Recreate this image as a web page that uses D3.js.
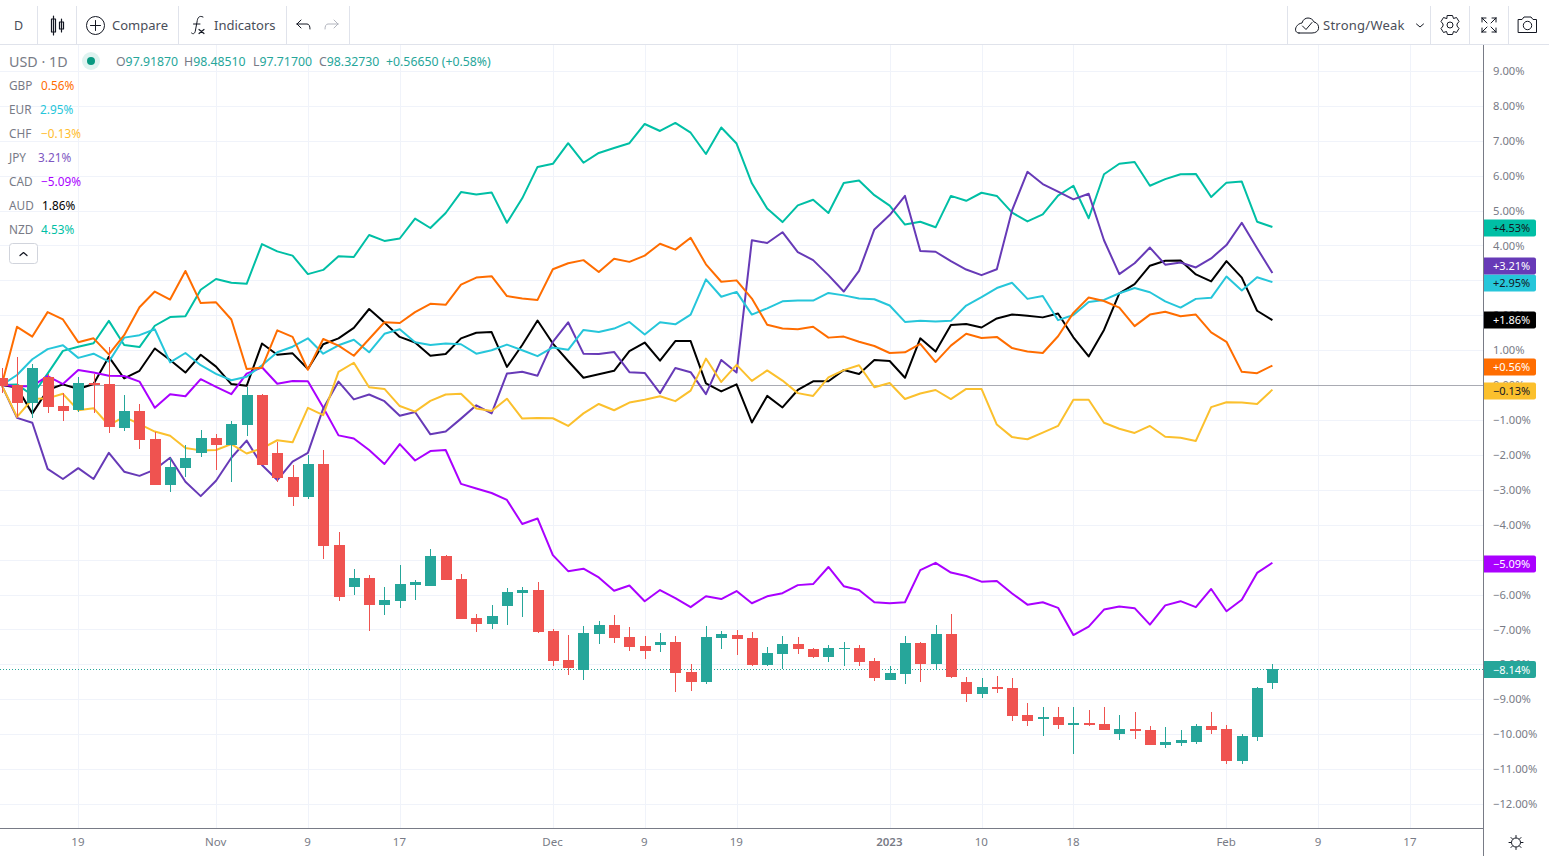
<!DOCTYPE html>
<html><head><meta charset="utf-8">
<script src="https://d3js.org/d3.v7.min.js"></script>
<style>
html,body{margin:0;padding:0;background:#fff;overflow:hidden}
svg{display:block;font-family:"Noto Sans",sans-serif}
</style></head><body><svg id="c" width="1549" height="856"></svg>
<script>
const gbp=[0,1.67,1.39,2.09,1.88,1.23,1.34,0.88,1.43,2.23,2.68,2.45,3.27,2.35,2.37,1.88,0.46,0.50,1.57,1.38,0.44,1.32,1.13,0.84,1.32,1.80,1.78,2.09,2.33,2.30,2.88,3.08,3.12,2.55,2.48,2.44,3.32,3.49,3.58,3.24,3.62,3.53,3.71,4.05,3.88,4.22,3.46,2.96,3.00,2.48,1.73,1.62,1.60,1.67,1.36,1.39,1.24,1.12,0.92,0.94,1.18,0.66,1.13,1.47,1.35,1.38,1.06,0.96,0.92,1.40,2.07,2.51,2.41,2.22,1.69,2.02,2.10,1.97,2.02,1.51,1.24,0.38,0.34,0.56];
const eur=[0,0.29,0.74,1.03,1.14,0.78,0.90,0.67,1.36,1.43,1.60,0.65,0.92,0.57,0.32,0.14,0.24,0.57,0.94,1.10,1.34,0.90,1.14,1.30,0.94,1.47,1.60,1.23,1.15,1.19,1.17,0.90,1.00,1.16,1.00,0.83,1.08,1.01,1.58,1.52,1.62,1.81,1.45,1.80,1.74,2.02,3.03,2.53,2.67,2.02,2.20,2.40,2.42,2.42,2.64,2.57,2.48,2.46,2.28,1.81,1.84,1.82,1.84,2.28,2.52,2.78,2.93,2.47,2.55,1.86,2.01,2.38,2.44,2.63,2.78,2.66,2.40,2.22,2.47,2.50,3.11,2.71,3.09,2.95];
const chf=[0,-0.91,-0.40,-0.38,-0.25,-0.72,-0.66,-1.15,-0.91,-1.12,-1.33,-1.45,-1.80,-1.87,-1.86,-1.69,-1.96,-1.81,-1.58,-1.64,-0.65,-0.86,0.38,0.64,-0.06,-0.11,-0.60,-0.76,-0.45,-0.27,-0.25,-0.67,-0.74,-0.39,-0.96,-0.94,-0.95,-1.17,-0.81,-0.54,-0.72,-0.50,-0.42,-0.32,-0.46,-0.16,0.76,0.09,0.58,0.12,0.42,0.13,-0.23,-0.31,0.22,0.43,0.57,-0.06,0.06,-0.40,-0.24,-0.14,-0.40,-0.11,-0.11,-1.13,-1.49,-1.55,-1.36,-1.17,-0.42,-0.42,-1.08,-1.25,-1.37,-1.17,-1.48,-1.51,-1.60,-0.63,-0.49,-0.50,-0.54,-0.13];
const jpy=[0,-0.94,-1.08,-2.40,-2.69,-2.38,-2.69,-1.94,-2.48,-2.60,-2.42,-2.08,-2.77,-3.18,-2.74,-2.08,-1.59,-2.29,-2.72,-2.19,-1.94,-0.67,0.10,-0.41,-0.27,-0.46,-0.88,-0.77,-1.41,-1.33,-0.96,-0.58,-0.81,0.33,0.38,0.27,1.24,1.80,0.90,0.89,0.95,0.37,0.35,-0.23,0.49,0.37,-0.26,0.72,0.36,4.15,4.07,4.38,3.81,3.58,3.15,2.68,3.27,4.46,4.87,5.42,3.84,3.82,3.55,3.31,3.15,3.32,5.01,6.11,5.76,5.54,5.32,5.48,4.15,3.18,3.49,3.94,3.45,3.51,3.37,3.63,4.01,4.65,3.92,3.21];
const cad=[0,-0.03,-0.03,0.26,0.03,0.43,0.36,0.27,0.26,0.10,-0.65,-0.26,-0.32,0.17,-0.05,-0.26,0.33,0.51,0.04,0.12,0.11,-0.64,-1.44,-1.53,-1.86,-2.26,-1.69,-2.16,-1.89,-1.86,-2.83,-2.96,-3.09,-3.29,-3.98,-3.82,-4.87,-5.33,-5.26,-5.51,-5.89,-5.74,-6.19,-5.87,-6.10,-6.36,-6.05,-6.13,-5.90,-6.25,-6.05,-5.96,-5.73,-5.70,-5.21,-5.76,-5.87,-6.22,-6.25,-6.22,-5.30,-5.09,-5.37,-5.47,-5.63,-5.61,-5.97,-6.29,-6.22,-6.38,-7.16,-6.92,-6.43,-6.34,-6.39,-6.86,-6.31,-6.19,-6.36,-5.84,-6.48,-6.15,-5.38,-5.09];
const aud=[0,-0.07,-0.81,-0.14,0.02,-0.11,0.03,0.81,0.19,0.41,1.05,0.72,0.36,0.87,0.53,0.03,-0.02,1.19,0.87,0.91,0.46,1.17,1.34,1.64,2.18,1.79,1.38,1.22,0.84,0.89,1.34,1.50,1.52,0.52,1.15,1.85,1.19,0.69,0.21,0.31,0.41,0.97,1.22,0.70,1.26,1.26,0.05,-0.18,0.02,-1.07,-0.31,-0.64,-0.14,0.11,0.11,0.43,0.32,0.72,0.69,0.21,1.34,0.96,1.72,1.75,1.65,1.91,2.02,1.99,1.94,2.05,1.37,0.82,1.58,2.63,2.89,3.42,3.56,3.57,3.17,2.97,3.55,3.08,2.13,1.86];
const nzd=[0,0.02,-0.29,0.33,0.98,1.10,1.20,1.84,1.15,1.09,1.70,1.95,1.97,2.73,3.04,2.93,2.90,4.04,3.83,3.71,3.18,3.30,3.69,3.67,4.30,4.13,4.20,4.77,4.50,4.93,5.53,5.46,5.52,4.65,5.35,6.25,6.34,6.93,6.37,6.65,6.79,6.93,7.48,7.28,7.51,7.23,6.62,7.38,6.92,5.78,5.06,4.67,5.15,5.31,4.93,5.79,5.86,5.44,5.14,4.60,4.68,4.52,5.42,5.28,5.51,5.42,4.94,4.69,4.89,5.43,5.71,4.78,6.04,6.34,6.39,5.71,5.90,6.04,6.05,5.39,5.80,5.83,4.68,4.53];
const open=[0.21,0,-0.52,0.23,-0.60,-0.72,0.06,0.03,-1.22,-0.74,-1.55,-2.87,-2.38,-1.95,-1.52,-1.72,-1.15,-0.29,-1.95,-2.64,-3.21,-2.26,-4.58,-5.79,-5.53,-6.30,-6.19,-5.73,-5.76,-4.90,-5.56,-6.68,-6.85,-6.33,-5.96,-5.87,-7.05,-7.88,-8.15,-7.13,-6.88,-7.22,-7.48,-7.45,-7.36,-8.22,-8.51,-7.25,-7.16,-7.25,-8.02,-7.71,-7.42,-7.56,-7.79,-7.56,-7.53,-7.91,-8.45,-8.28,-7.39,-7.99,-7.13,-8.51,-8.85,-8.65,-8.68,-9.45,-9.57,-9.51,-9.74,-9.68,-9.71,-10.00,-9.86,-9.88,-10.31,-10.26,-10.23,-9.77,-9.86,-10.77,-10.09,-8.54];
const close=[-0.03,-0.52,0.49,-0.63,-0.74,0.06,0,-1.20,-0.74,-1.57,-2.87,-2.35,-2.09,-1.52,-1.72,-1.12,-0.29,-2.29,-2.66,-3.21,-2.26,-4.61,-6.07,-5.53,-6.30,-6.16,-5.70,-5.64,-4.90,-5.59,-6.70,-6.85,-6.62,-5.93,-5.87,-7.08,-7.91,-8.11,-7.10,-6.88,-7.25,-7.51,-7.62,-7.36,-8.25,-8.51,-7.22,-7.13,-7.28,-8.02,-7.68,-7.42,-7.56,-7.79,-7.53,-7.53,-7.94,-8.39,-8.25,-7.39,-7.99,-7.13,-8.37,-8.85,-8.65,-8.71,-9.48,-9.63,-9.51,-9.74,-9.68,-9.74,-9.88,-9.86,-9.91,-10.31,-10.23,-10.17,-9.77,-9.88,-10.77,-10.06,-8.68,-8.14];
const high=[0.48,0.81,0.60,0.33,-0.24,0.24,0.33,1.08,-0.29,-0.54,-1.34,-2.10,-1.72,-1.29,-1.40,-1.03,-0.05,-0.26,-1.62,-2.29,-2.01,-1.86,-4.21,-5.27,-5.44,-5.79,-5.16,-5.59,-4.70,-4.87,-5.42,-6.56,-6.30,-5.82,-5.79,-5.64,-6.99,-7.16,-6.90,-6.76,-6.59,-6.93,-7.19,-7.10,-7.19,-8.00,-6.90,-7.05,-7.02,-7.08,-7.51,-7.19,-7.22,-7.54,-7.45,-7.36,-7.45,-7.82,-8.05,-7.19,-7.36,-6.88,-6.56,-8.37,-8.40,-8.34,-8.39,-9.11,-9.23,-9.23,-9.23,-9.31,-9.23,-9.45,-9.37,-9.77,-9.80,-9.88,-9.71,-9.37,-9.74,-10.00,-8.65,-8.00];
const low=[-0.24,-0.91,-0.94,-0.79,-1.02,-0.76,-0.79,-1.37,-1.31,-1.82,-2.87,-3.07,-2.63,-2.05,-2.44,-2.77,-1.46,-2.29,-2.77,-3.46,-3.26,-4.98,-6.19,-6.02,-7.05,-6.59,-6.39,-6.16,-5.76,-5.59,-6.70,-7.08,-6.99,-6.88,-6.65,-7.11,-8.05,-8.31,-8.45,-7.42,-7.39,-7.62,-7.85,-7.64,-8.80,-8.77,-8.57,-7.56,-7.74,-8.05,-8.05,-8.14,-7.71,-7.82,-7.94,-8.05,-8.05,-8.48,-8.45,-8.57,-8.51,-8.17,-8.40,-9.08,-8.97,-8.82,-9.63,-9.77,-10.06,-9.86,-10.57,-9.77,-9.88,-10.17,-10.14,-10.31,-10.40,-10.34,-10.29,-10.00,-10.86,-10.86,-10.20,-8.71];
const barIndex=d3.range(84);
const seriesNames=["GBP","EUR","CHF","JPY","CAD","AUD","NZD"];
const seriesValues=[gbp,eur,chf,jpy,cad,aud,nzd];
const seriesLast=["0.56%","2.95%","−0.13%","3.21%","−5.09%","1.86%","4.53%"];
const seriesColors=["#ff6d00","#26c6da","#fbc02d","#673ab7","#aa00ff","#000000","#00bfa5"];
const tagLabels=["+0.56%","+2.95%","−0.13%","+3.21%","−5.09%","+1.86%","+4.53%"];
const tagText=["#fff","#131722","#131722","#fff","#fff","#fff","#131722"];
const tagNudge=[1,0.5,1,-7.5,1,0,1];
const gridTicks=[9,8,7,6,5,4,3,2,1,0,-1,-2,-3,-4,-5,-6,-7,-8,-9,-10,-11,-12];
const priceTicks=[9,8,7,6,5,4,2,1,0,-1,-2,-3,-4,-6,-7,-8,-9,-10,-11,-12];
const timeTickIndex=[5,14,20,26,36,42,48,58,64,70,80,86,92];
const timeTickLabels=["19","Nov","9","17","Dec","9","19","2023","10","18","Feb","9","17"];
const lastClosePct=-8.14;
const ohlcLabels=[["O","97.91870",116],["H","98.48510",184],["L","97.71700",253],["C","98.32730",319]];

const W=1549,H=856,axisX=1483.5,axisY=828.5,topY=44.5;
const GRAY="#787b86",GRID="#f0f3fa",UP="#26a69a",DOWN="#ef5350",INK="#131722",LINE="#e0e3eb";
const svg=d3.select("#c");
const x=d3.scaleLinear().domain([0,83]).range([1.7,1272.4]);
const y=d3.scaleLinear().domain([0,-12]).range([385.1,804]);
const pct=v=>(v<0?"−":"")+Math.abs(v).toFixed(2)+"%";
svg.append("rect").attr("width",W).attr("height",H).attr("fill","#fff");

const defs=svg.append("defs");
defs.append("clipPath").attr("id","plot").append("rect").attr("x",0).attr("y",topY).attr("width",axisX).attr("height",axisY-topY);

// grid
const grid=svg.append("g");
grid.selectAll(".h").data(gridTicks).join("line").attr("x1",0).attr("x2",axisX)
  .attr("y1",d=>Math.round(y(d))+.5).attr("y2",d=>Math.round(y(d))+.5).attr("stroke",GRID);
grid.selectAll(".v").data(timeTickIndex).join("line").attr("y1",topY).attr("y2",axisY)
  .attr("x1",d=>Math.round(x(d))+.5).attr("x2",d=>Math.round(x(d))+.5).attr("stroke",GRID);

const plot=svg.append("g").attr("clip-path","url(#plot)");
// zero base line
plot.append("line").attr("x1",0).attr("x2",axisX).attr("y1",Math.round(y(0))+.5).attr("y2",Math.round(y(0))+.5).attr("stroke","#a9abb3");
// last close dotted
plot.append("line").attr("x1",0).attr("x2",axisX).attr("y1",Math.round(y(lastClosePct))+.5).attr("y2",Math.round(y(lastClosePct))+.5)
  .attr("stroke",UP).attr("stroke-dasharray","1 2");

// comparison lines (first in legend is topmost)
const line=d3.line().x((d,i)=>x(i)).y(d=>y(d));
d3.range(seriesNames.length).reverse().forEach(k=>{
  plot.append("path").attr("d",line(seriesValues[k])).attr("fill","none")
    .attr("stroke",seriesColors[k]).attr("stroke-width",2).attr("stroke-linejoin","round");
});

// candles
const candles=plot.selectAll(".cdl").data(barIndex).join("g");
const col=i=>close[i]>=open[i]?UP:DOWN;
candles.append("rect").attr("x",i=>Math.round(x(i))).attr("width",1)
  .attr("y",i=>Math.round(y(high[i]))).attr("height",i=>Math.max(1,Math.round(y(low[i]))-Math.round(y(high[i])))).attr("fill",col);
candles.append("rect").attr("x",i=>Math.round(x(i))-5).attr("width",11)
  .attr("y",i=>Math.round(y(Math.max(open[i],close[i]))))
  .attr("height",i=>Math.max(1,Math.round(y(Math.min(open[i],close[i])))-Math.round(y(Math.max(open[i],close[i]))))).attr("fill",col);

// price axis
const yAxis=d3.axisRight(y).tickValues(priceTicks).tickFormat(pct).tickSize(0).tickPadding(0);
const ya=svg.append("g").attr("transform",`translate(1493,0)`).call(yAxis);
ya.select(".domain").remove();
ya.selectAll("text").attr("x",0).attr("text-anchor","start").attr("fill",GRAY).style("font-size","11.2px").style("font-family","'Noto Sans',sans-serif");

// time axis
const xAxis=d3.axisBottom(x).tickValues(timeTickIndex).tickFormat((d,i)=>timeTickLabels[i]).tickSize(0).tickPadding(0);
const xa=svg.append("g").attr("transform","translate(-0.8,837)").call(xAxis);
xa.select(".domain").remove();
xa.selectAll("text").attr("y",0).attr("dy","0.78em").attr("fill",GRAY).style("font-size","11.5px").style("font-family","'Noto Sans',sans-serif")
  .style("font-weight",(d,i)=>timeTickLabels[i]==="2023"?"600":"400");

// axis borders
svg.append("line").attr("x1",0).attr("x2",axisX).attr("y1",axisY).attr("y2",axisY).attr("stroke",GRAY);
svg.append("line").attr("x1",axisX).attr("x2",axisX).attr("y1",topY).attr("y2",H).attr("stroke",GRAY);

// value tags
function tag(cy,color,label,tc){
  const g=svg.append("g");
  g.append("path").attr("d",`M1484,${cy-8.5}H1534a2,2 0 0 1 2,2V${cy+6.5}a2,2 0 0 1 -2,2H1484Z`).attr("fill",color);
  g.append("text").attr("x",1493).attr("y",cy+4).attr("text-anchor","start").attr("fill",tc).attr("font-size",11).text(label);
}
seriesNames.forEach((n,k)=>{
  const v=seriesValues[k][83];
  tag(Math.round(y(v)+tagNudge[k]),seriesColors[k],tagLabels[k],tagText[k]);
});
tag(Math.round(y(lastClosePct))+.5,UP,pct(lastClosePct),"#fff");

// toolbar
svg.append("rect").attr("width",W).attr("height",44).attr("fill","#fff");
svg.append("line").attr("x1",0).attr("x2",W).attr("y1",topY).attr("y2",topY).attr("stroke",LINE);
[37.5,76.5,178.5,286.5,349.5,1287.5,1430.5,1469.5,1508.5].forEach(p=>
  svg.append("line").attr("x1",p).attr("x2",p).attr("y1",6).attr("y2",44).attr("stroke",LINE));
const T=(xp,yp,s,opt={})=>svg.append("text").attr("x",xp).attr("y",yp).attr("font-size",opt.size||13).attr("fill",opt.fill||"#4a4e59").attr("text-anchor",opt.anchor||"start").text(s);
T(18.5,30,"D",{anchor:"middle",size:12.5});
T(112,30,"Compare");T(214,30,"Indicators");T(1323,30,"Strong/Weak").attr("letter-spacing",0.25);
const icon=(d,c=INK,w=1)=>svg.append("path").attr("d",d).attr("fill","none").attr("stroke",c).attr("stroke-width",w).attr("stroke-linecap","round").attr("stroke-linejoin","round");
// candle icon
icon("M53.5,16V35M51.5,19H55.5V32H51.5ZM61.5,19V32M59.5,22H63.5V29H59.5Z",INK,1.2);
// compare
svg.append("circle").attr("cx",95.5).attr("cy",25.5).attr("r",9).attr("fill","none").attr("stroke",INK);
icon("M95.5,20.5V30.5M90.5,25.5H100.5");
// fx
icon("M203,17C199,15 197.5,18 197,22L195.5,30C195,34 193,34.5 191.5,33M193.5,24H200");
icon("M199,29.5L204,33.5M204,29.5L199,33.5",INK,1.2);
// undo/redo
icon("M297,24H307C309,24 310,26 310,29M297,24L301,20M297,24L301,28");
icon("M338,24H328C326,24 325,26 325,29M338,24L334,20M338,24L334,28","#b2b5be");
// cloud
icon("M1299,33H1312C1321,33 1320,23 1314,22C1312,17 1304,16 1302,23C1295,24 1293,33 1299,33Z");
icon("M1302.5,26L1306,29.5L1312,22.5");
icon("M1416.5,24L1420,27L1423.5,24");
// gear
svg.append("circle").attr("cx",1450).attr("cy",25).attr("r",3).attr("fill","none").attr("stroke",INK);
icon("M1447.5,15.5H1452.5L1453.5,18.5L1456.5,17.5L1459,21.5L1457,24V26L1459,28.5L1456.5,32.5L1453.5,31.5L1452.5,34.5H1447.5L1446.5,31.5L1443.5,32.5L1441,28.5L1443,26V24L1441,21.5L1443.5,17.5L1446.5,18.5Z");
// fullscreen
icon("M1482,18H1486M1482,18V22M1482,18L1487,23M1496,18H1492M1496,18V22M1496,18L1491,23M1482,32H1486M1482,32V28M1482,32L1487,27M1496,32H1492M1496,32V28M1496,32L1491,27");
// camera
icon("M1518.5,19.5H1522L1524,17H1531L1533,19.5H1536.5V32.5H1518.5Z");
svg.append("circle").attr("cx",1527.5).attr("cy",25.5).attr("r",4.2).attr("fill","none").attr("stroke",INK);
// sun/settings icon bottom right
svg.append("circle").attr("cx",1516).attr("cy",842.5).attr("r",4.5).attr("fill","none").attr("stroke",INK);
icon("M1516,835.5V837.5M1516,847.5V849.5M1509,842.5H1511M1521,842.5H1523M1511,837.5L1512.5,839M1519.5,846L1521,847.5M1521,837.5L1519.5,839M1512.5,846L1511,847.5");

// legend
T(9,67,"USD · 1D",{size:14.3,fill:GRAY});
svg.append("circle").attr("cx",91).attr("cy",61).attr("r",9).attr("fill","#dff3f0");
svg.append("circle").attr("cx",91).attr("cy",61).attr("r",4).attr("fill","#089981");
ohlcLabels.forEach(([a,b,p])=>{
  const t=T(p,66,a,{size:12.3,fill:GRAY});
  t.append("tspan").attr("fill",UP).text(b);
});
T(386,66,"+0.56650 (+0.58%)",{size:12.3,fill:UP});
const valX=[41,40,41,38,41,42,41];
seriesNames.forEach((n,k)=>{
  const yy=90+24*k;
  T(9,yy,n,{size:11.8,fill:GRAY});
  T(valX[k],yy,seriesLast[k],{size:11.8,fill:seriesColors[k]==="#673ab7"?"#7e57c2":seriesColors[k]==="#fbc02d"?"#ffbd2e":seriesColors[k]});
});
svg.append("rect").attr("x",9.5).attr("y",243.5).attr("width",28).attr("height",20).attr("rx",3).attr("fill","#fff").attr("stroke","#d1d4dc");
icon("M20,255.5L23.5,252.5L27,255.5",INK,1.2);
</script></body></html>
